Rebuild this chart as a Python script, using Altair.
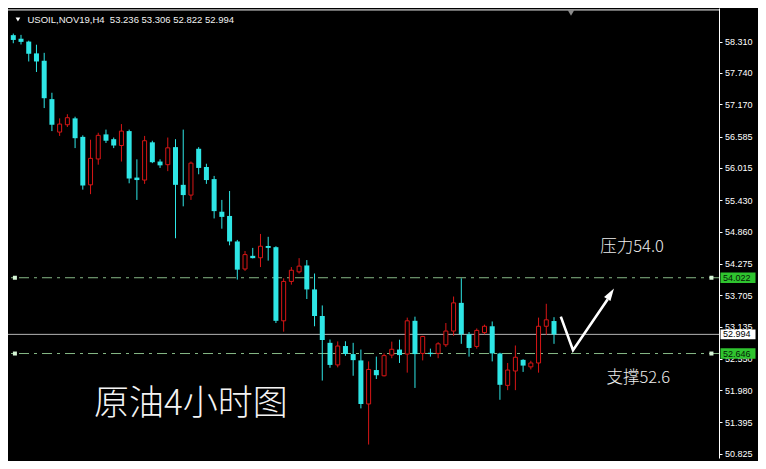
import altair as alt
import pandas as pd
import numpy as np

# ---- candle data (H4 USOIL) ----
opens = [58.427, 58.362, 58.310, 58.096, 57.962, 57.265, 56.667, 56.800, 56.916, 56.580,
         55.709, 56.179, 56.625, 56.538, 56.423, 56.685, 55.841, 55.796, 56.481, 56.132,
         56.075, 56.394, 55.709, 55.523, 56.364, 56.033, 55.813, 55.221, 55.144, 54.681,
         54.181, 54.420, 54.385, 54.599, 54.577, 53.240, 53.955, 54.129, 54.245, 53.810,
         53.327, 52.840, 52.439, 52.782, 52.636, 52.521, 51.730, 52.346, 52.242, 52.618,
         52.718, 52.636, 53.240, 52.648, 52.660, 52.648, 52.805, 53.054, 53.566, 52.996,
         52.775, 53.026, 53.141, 52.648, 52.068, 52.329, 52.531, 52.404, 52.474, 53.141,
         53.236]
highs = [58.455, 58.432, 58.327, 58.253, 58.106, 57.381, 56.916, 56.991, 56.946, 56.608,
         56.528, 56.655, 56.712, 56.568, 56.812, 56.712, 56.172, 56.597, 56.510, 56.172,
         56.568, 56.538, 56.712, 56.132, 56.394, 56.092, 55.871, 55.435, 55.597, 54.709,
         54.507, 54.564, 54.817, 54.765, 54.594, 54.012, 54.216, 54.378, 54.343, 54.099,
         53.519, 52.900, 52.866, 52.869, 52.840, 52.718, 52.503, 52.590, 52.648, 52.862,
         52.897, 53.298, 53.315, 52.967, 52.735, 52.852, 53.200, 53.681, 54.012, 53.036,
         53.101, 53.170, 53.228, 52.660, 52.474, 52.792, 52.543, 52.514, 53.298, 53.549,
         53.306]
lows = [58.280, 58.258, 57.949, 57.758, 57.103, 56.685, 56.597, 56.759, 56.376, 55.622,
        55.540, 56.075, 56.469, 56.376, 56.132, 55.737, 55.435, 55.726, 56.103, 56.016,
        55.958, 54.739, 55.319, 55.435, 55.901, 55.726, 55.099, 54.913, 54.611, 53.989,
        54.146, 54.373, 54.216, 54.333, 53.200, 53.043, 53.897, 54.099, 53.636, 53.141,
        52.155, 52.387, 52.395, 52.604, 52.242, 51.650, 50.993, 52.183, 52.230, 52.561,
        52.474, 52.299, 52.021, 52.521, 52.590, 52.561, 52.765, 52.967, 52.822, 52.590,
        52.735, 52.996, 52.503, 51.806, 51.981, 51.981, 52.312, 52.357, 52.299, 52.984,
        52.822]
closes = [58.340, 58.305, 58.089, 57.949, 57.282, 56.800, 56.812, 56.928, 56.556, 55.697,
          56.190, 56.608, 56.510, 56.423, 56.685, 55.824, 55.796, 56.510, 56.120, 56.063,
          56.381, 55.709, 55.523, 56.103, 56.016, 55.796, 55.232, 55.127, 54.681, 54.169,
          54.442, 54.378, 54.594, 54.564, 53.240, 53.955, 54.158, 54.233, 53.810, 53.327,
          52.892, 52.439, 52.782, 52.639, 52.526, 51.730, 52.357, 52.252, 52.608, 52.723,
          52.618, 53.240, 52.636, 52.956, 52.636, 52.822, 53.054, 53.566, 52.996, 52.747,
          53.066, 53.141, 52.648, 52.078, 52.346, 52.578, 52.427, 52.474, 53.141, 53.258,
          52.994]

tick_values = [58.310, 57.740, 57.170, 56.585, 56.015, 55.430, 54.860, 54.275,
               53.705, 53.135, 52.550, 51.980, 51.395, 50.825]

level_prices = [54.022, 52.646]
level_labels = ["54.022", "52.646"]
bid_price = 52.994
bid_label = "52.994"

header_text = "USOIL,NOV19,H4\u00a0\u00a053.236 53.306 52.822 52.994"
note_texts = ["压力54.0", "支撑52.6"]
note_idx = [80.1, 80.9]
note_price = [54.582, 52.204]
title_text = "原油4小时图"
title_idx = 23.0
title_price = 51.725

arrow_idx = [70.88, 72.46, 76.95]
arrow_price = [53.316, 52.706, 53.633]
arrow_head = (77.28, 53.72)

CYAN = "#2ee6e6"
RED = "#d81616"
W, H = 711, 450
XDOM = [-0.0375, 90.7125]
YDOM = [50.749, 58.920]

df = pd.DataFrame({"i": np.arange(len(opens)), "open": opens, "high": highs,
                   "low": lows, "close": closes})
df["dir"] = np.where(df["close"] > df["open"], "up", "down")

xs = alt.Scale(domain=XDOM, nice=False, zero=False)
ys = alt.Scale(domain=YDOM, nice=False, zero=False)
yaxis = alt.Axis(orient="right", values=tick_values, format=".3f", grid=False,
                 domainColor="white", domainWidth=1, tickColor="white", tickSize=3,
                 labelColor="white", labelFont="Liberation Sans", labelFontSize=9,
                 labelPadding=2.5, labelOverlap=False, labelFlush=False, title=None)


def X(f):
    return alt.X(f, type="quantitative", scale=xs, axis=None)


def Y(f):
    return alt.Y(f, type="quantitative", scale=ys, axis=yaxis)


base = alt.Chart(df)
wicks = base.mark_rule(strokeWidth=1).encode(
    x=X("i"), y=Y("low"), y2=alt.Y2("high"),
    color=alt.Color("dir:N", scale=alt.Scale(domain=["down", "up"], range=[CYAN, RED]), legend=None))
bear = base.transform_filter("datum.dir == 'down'").mark_bar(size=5, color=CYAN).encode(
    x=X("i"), y=Y("open"), y2=alt.Y2("close"))
bull = base.transform_filter("datum.dir == 'up'").mark_bar(
    size=4, fill="black", stroke=RED, strokeWidth=1).encode(
    x=X("i"), y=Y("open"), y2=alt.Y2("close"))

lev = pd.DataFrame({"price": level_prices, "label": level_labels})
lev["top"] = lev["price"] + 0.095
lev["bot"] = lev["price"] - 0.095
dashed = alt.Chart(lev).mark_rule(color="#86b886", strokeWidth=1, strokeDash=[10, 5, 3, 5]).encode(
    y=Y("price"))

bid = pd.DataFrame({"price": [bid_price], "label": [bid_label]})
bid["top"] = bid["price"] + 0.09
bid["bot"] = bid["price"] - 0.09
bidline = alt.Chart(bid).mark_rule(color="#b4b4b4", strokeWidth=1).encode(y=Y("price"))

sq = pd.DataFrame({"i": [0.21, 90.38, 0.21, 90.38],
                   "price": [level_prices[0], level_prices[0], level_prices[1], level_prices[1]]})
squares = alt.Chart(sq).mark_square(size=16, color="#d6f5d6", opacity=1).encode(x=X("i"), y=Y("price"))

green_box = alt.Chart(lev).mark_rect(color="#2fc42f").encode(
    x=alt.value(W + 1.5), x2=alt.value(W + 36.5), y=Y("top"), y2=alt.Y2("bot"))
green_txt = alt.Chart(lev).mark_text(align="left", baseline="middle", font="Liberation Sans",
                                     fontSize=9, color="#062006").encode(
    x=alt.value(W + 4), y=Y("price"), text="label:N")
white_box = alt.Chart(bid).mark_rect(color="white").encode(
    x=alt.value(W + 1.5), x2=alt.value(W + 36.5), y=Y("top"), y2=alt.Y2("bot"))
white_txt = alt.Chart(bid).mark_text(align="left", baseline="middle", font="Liberation Sans",
                                     fontSize=9, color="black").encode(
    x=alt.value(W + 4), y=Y("price"), text="label:N")

top_border = alt.Chart(pd.DataFrame({"price": [58.885]})).mark_rule(color="white", strokeWidth=1).encode(
    y=Y("price"))

hdr = pd.DataFrame({"i": [1.84], "price": [58.711], "t": [header_text]})
header = alt.Chart(hdr).mark_text(align="left", baseline="middle", font="Liberation Sans",
                                  fontSize=9.5, color="#f2f2f2").encode(
    x=X("i"), y=Y("price"), text="t:N")
hdr_tri = alt.Chart(pd.DataFrame({"i": [0.6], "price": [58.711]})).mark_point(
    shape="triangle-down", size=22, filled=True, color="white", opacity=1).encode(x=X("i"), y=Y("price"))
shift_tri = alt.Chart(pd.DataFrame({"i": [72.2], "price": [58.833]})).mark_point(
    shape="triangle-down", size=45, filled=True, color="#8a8a8a", opacity=1).encode(x=X("i"), y=Y("price"))

notes = pd.DataFrame({"i": note_idx, "price": note_price, "t": note_texts})
note_marks = alt.Chart(notes).mark_text(align="center", baseline="middle", font="Noto Sans CJK SC",
                                        fontSize=16.5, fontWeight=300, color="#eeeeee").encode(
    x=X("i"), y=Y("price"), text="t:N")
ttl = pd.DataFrame({"i": [title_idx], "price": [title_price], "t": [title_text]})
title_mark = alt.Chart(ttl).mark_text(align="center", baseline="middle", font="Noto Sans CJK SC",
                                      fontSize=35, fontWeight=300, color="#f4f4f4").encode(
    x=X("i"), y=Y("price"), text="t:N")

arr = pd.DataFrame({"i": arrow_idx, "price": arrow_price, "o": [0, 1, 2]})
arrow_line = alt.Chart(arr).mark_line(color="white", strokeWidth=2.6).encode(
    x=X("i"), y=Y("price"), order="o:Q")
arrow_tip = alt.Chart(pd.DataFrame({"i": [arrow_head[0]], "price": [arrow_head[1]]})).mark_point(
    shape="M0,-1L0.55,0.8L-0.55,0.8Z", size=190, angle=33, filled=True, color="white", opacity=1).encode(
    x=X("i"), y=Y("price"))

chart = alt.layer(
    top_border, dashed, bidline, wicks, bear, bull, squares,
    green_box, green_txt, white_box, white_txt,
    header, hdr_tri, shift_tri, note_marks, title_mark, arrow_line, arrow_tip
).properties(
    width=W, height=H,
    autosize=alt.AutoSizeParams(type="none"),
    padding={"left": 0, "top": 0, "right": 39, "bottom": 3},
    background="black"
).configure_view(stroke=None)

chart.save("out.html", embed_options={"renderer": "svg", "actions": False})
